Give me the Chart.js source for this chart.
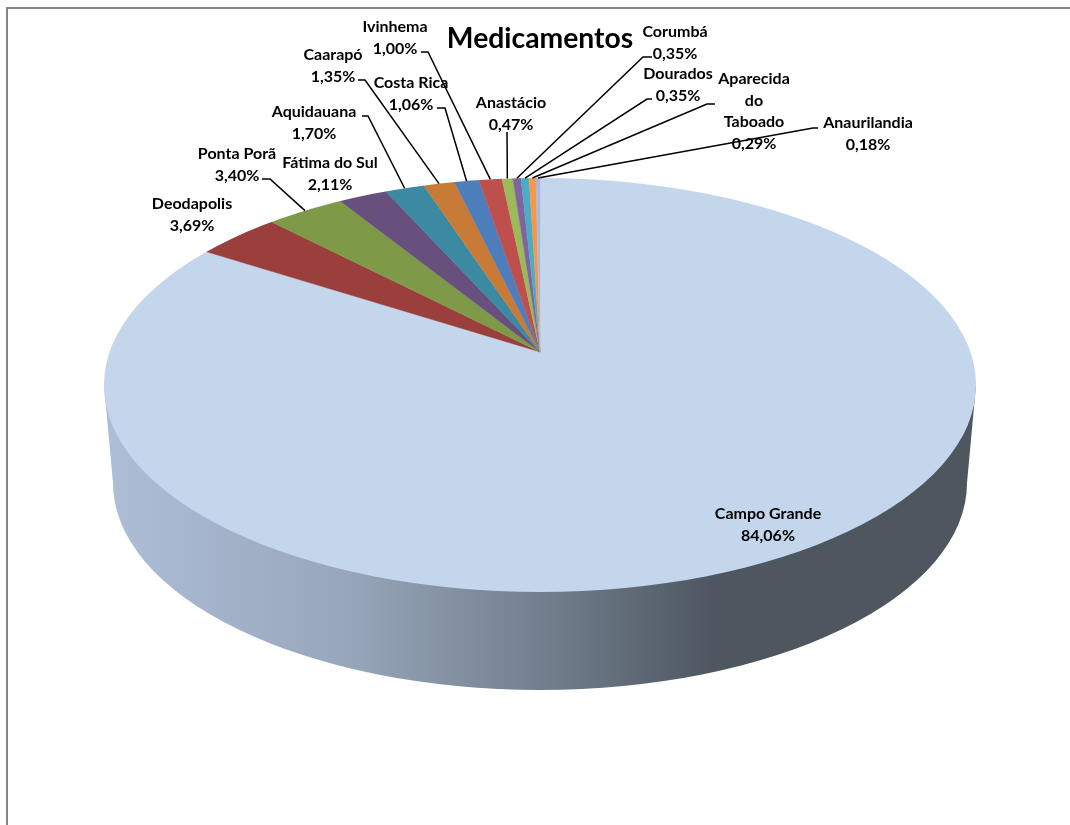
<!DOCTYPE html>
<html>
<head>
<meta charset="utf-8">
<title>Medicamentos</title>
<script src="https://cdn.jsdelivr.net/npm/chart.js@4"></script>
<style>
  html, body { margin: 0; padding: 0; background: #fff; }
  canvas { display: block; }
</style>
</head>
<body>
<canvas id="pieChart" width="1070" height="825"></canvas>
<script>
const cities = ["Campo Grande", "Deodapolis", "Ponta Porã", "Fátima do Sul", "Aquidauana", "Caarapó", "Costa Rica",
    "Ivinhema", "Anastácio", "Corumbá", "Dourados", "Aparecida do Taboado", "Anaurilandia"];
const shares = [84.06, 3.69, 3.40, 2.11, 1.70, 1.35, 1.06, 1.00, 0.47, 0.35, 0.35, 0.29, 0.18];
const sliceColors = ["#C3D6EC", "#9A3F3C", "#7E9A48", "#674F7E", "#3B8AA1", "#C87B37", "#4D7EBB",
    "#BE4F4C", "#9BBB59", "#8064A2", "#4BACC6", "#F79646", "#A9BAD8"];

// label name lines, wrapped the way the original does it
const nameLines = [["Campo Grande"], ["Deodapolis"], ["Ponta Porã"], ["Fátima do Sul"], ["Aquidauana"], ["Caarapó"], ["Costa Rica"],
    ["Ivinhema"], ["Anastácio"], ["Corumbá"], ["Dourados"], ["Aparecida", "do", "Taboado"], ["Anaurilandia"]];
// centre of the first line of every label
const labelAnchors = [[768, 514], [192, 204], [237, 154], [330, 163], [314, 112], [333, 55], [411, 83],
    [395, 27], [511, 103], [675, 32], [678, 74], [754, 79], [868, 123]];
// leader line start points (label end, elbow); null = no leader
const leaders = [null, null, [[262, 179], [270, 179]], null, [[362, 116], [368, 116]], [[358, 80], [365, 80]], [[437, 108], [445, 108]],
    [[421, 52], [428, 52]], [[507, 132]], [[652, 57], [643, 57]], [[652, 99], [647, 99]], [[715, 104], [707, 104]], [[818, 128], [813, 128]]];

// ellipse of the top face, ellipse of the bottom rim, tilt of the pie
const top3d = { x: 540, y: 385, rx: 436, ry: 207 };
const bottom3d = { x: 540, y: 483, rx: 427, ry: 207 };
const tilt = 0.47;

const pie3dPlugin = {
    id: "pie3d",
    beforeDraw(chart) {
        const ctx = chart.ctx;
        ctx.save();
        ctx.strokeStyle = "#868686";
        ctx.lineWidth = 2;
        ctx.beginPath();
        ctx.moveTo(7, 825);
        ctx.lineTo(7, 8);
        ctx.lineTo(1070, 8);
        ctx.stroke();
        ctx.restore();
    },
    beforeDatasetsDraw(chart) {
        const ctx = chart.ctx;
        const arc = chart.getDatasetMeta(0).data[0];

        // side wall
        const grad = ctx.createLinearGradient(top3d.x - top3d.rx, 0, top3d.x + top3d.rx, 0);
        grad.addColorStop(0, "#AEBED7");
        grad.addColorStop(0.28, "#97A6BB");
        grad.addColorStop(0.52, "#6F7C8A");
        grad.addColorStop(0.70, "#4E5660");
        grad.addColorStop(1, "#4E5660");
        ctx.save();
        ctx.fillStyle = grad;
        ctx.beginPath();
        ctx.moveTo(top3d.x + top3d.rx, top3d.y);
        ctx.lineTo(bottom3d.x + bottom3d.rx, bottom3d.y);
        ctx.ellipse(bottom3d.x, bottom3d.y, bottom3d.rx, bottom3d.ry, 0, 0, Math.PI);
        ctx.lineTo(top3d.x - top3d.rx, top3d.y);
        ctx.closePath();
        ctx.fill();
        ctx.restore();

        // top face: squash the library's pie and cut it to the ellipse
        ctx.save();
        ctx.beginPath();
        ctx.ellipse(top3d.x, top3d.y, top3d.rx, top3d.ry, 0, 0, Math.PI * 2);
        ctx.clip();
        ctx.translate(arc.x, arc.y);
        ctx.scale(1, tilt);
        ctx.translate(-arc.x, -arc.y);
    },
    afterDatasetsDraw(chart) {
        const ctx = chart.ctx;
        ctx.restore();

        const arcs = chart.getDatasetMeta(0).data;

        // leader lines
        ctx.save();
        ctx.strokeStyle = "#000";
        ctx.lineWidth = 1.5;
        arcs.forEach((arc, i) => {
            if (!leaders[i]) return;
            const end = edgePoint(arc);
            ctx.beginPath();
            leaders[i].forEach((p, j) => {
                if (j === 0) ctx.moveTo(p[0], p[1]);
                else ctx.lineTo(p[0], p[1]);
            });
            ctx.lineTo(end.x, end.y);
            ctx.stroke();
        });
        ctx.restore();

        // labels
        ctx.save();
        ctx.fillStyle = "#000";
        ctx.font = "bold 16px Lato";
        ctx.textAlign = "center";
        ctx.textBaseline = "middle";
        shares.forEach((v, i) => {
            const lines = nameLines[i].concat(v.toFixed(2).replace(".", ",") + "%");
            lines.forEach((t, j) => {
                ctx.fillText(t, labelAnchors[i][0], labelAnchors[i][1] + j * 21.5);
            });
        });
        ctx.restore();
    }
};

// where the slice's middle ray meets the top ellipse
function edgePoint(arc) {
    const a = (arc.startAngle + arc.endAngle) / 2;
    const dx = Math.cos(a);
    const dy = Math.sin(a) * tilt;
    const ox = arc.x - top3d.x;
    const oy = arc.y - top3d.y;
    const A = (dx * dx) / (top3d.rx * top3d.rx) + (dy * dy) / (top3d.ry * top3d.ry);
    const B = 2 * ((ox * dx) / (top3d.rx * top3d.rx) + (oy * dy) / (top3d.ry * top3d.ry));
    const C = (ox * ox) / (top3d.rx * top3d.rx) + (oy * oy) / (top3d.ry * top3d.ry) - 1;
    const t = (-B + Math.sqrt(B * B - 4 * A * C)) / (2 * A);
    return { x: arc.x + t * dx, y: arc.y + t * dy };
}

new Chart(document.getElementById("pieChart"), {
    type: "pie",
    data: {
        labels: cities,
        datasets: [
            {
                data: shares,
                backgroundColor: sliceColors,
                borderColor: sliceColors,
                borderWidth: 0.5,
                clip: false,
            },
        ],
    },
    options: {
        responsive: false,
        animation: false,
        radius: 620,
        layout: { padding: { left: 10, bottom: 177 } },
        plugins: {
            legend: { display: false },
            tooltip: { enabled: false },
            title: {
                display: true,
                text: "Medicamentos",
                color: "#000",
                font: { family: "Lato", size: 28.3, weight: "bold", lineHeight: 1.2 },
                padding: { top: 22, bottom: 0 },
            },
        },
    },
    plugins: [pie3dPlugin],
});
</script>
</body>
</html>
